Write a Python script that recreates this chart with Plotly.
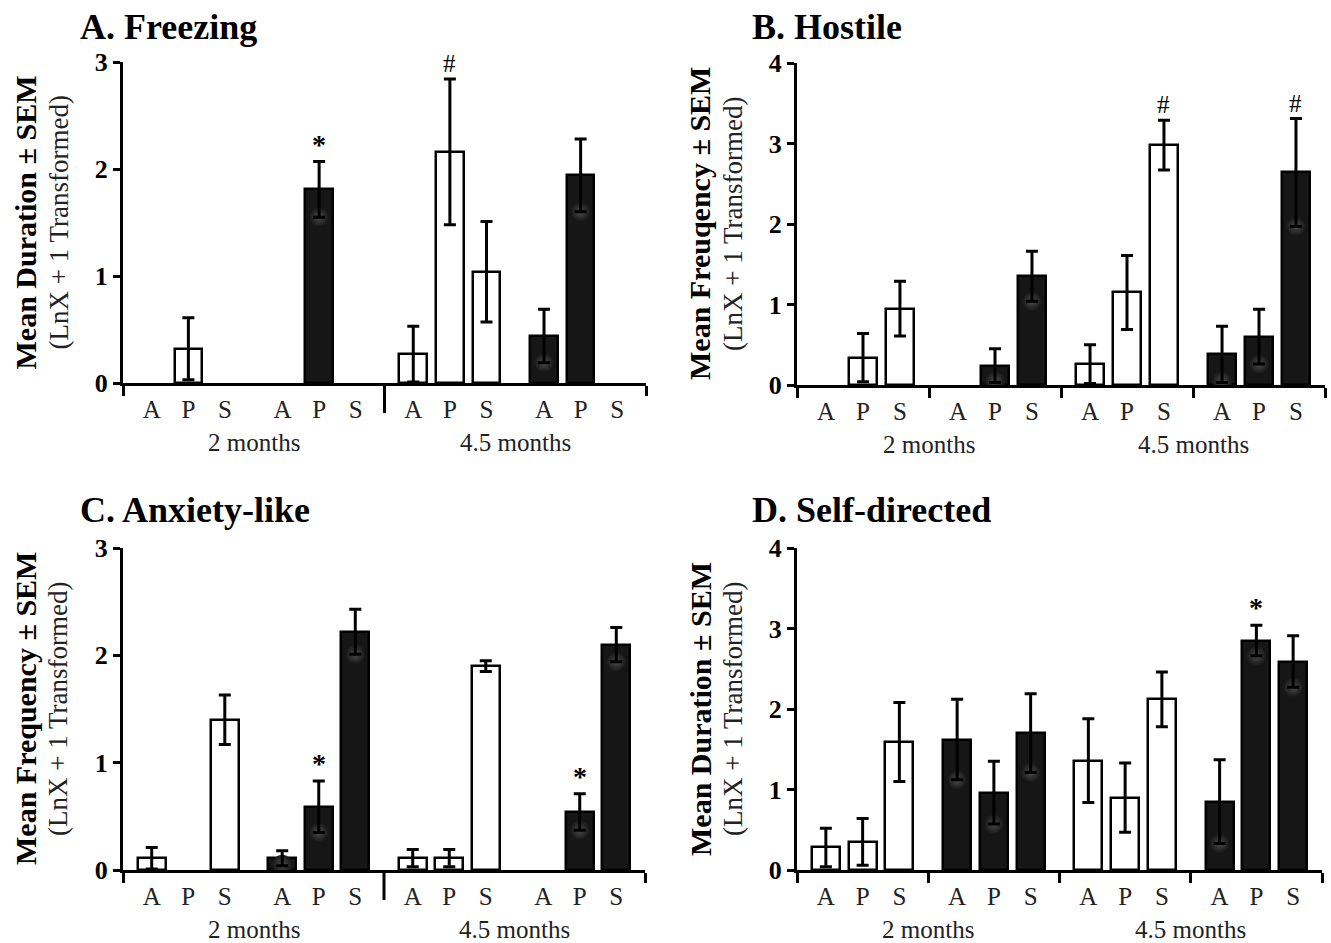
import plotly.graph_objects as go

# ---------------- data ----------------
behaviors = ["A", "P", "S"]
age_labels = ["2 months", "4.5 months"]
# group order: 2 months (white), 2 months (black), 4.5 months (white), 4.5 months (black)
group_is_black = [False, True, False, True]

panel_titles = ["A. Freezing", "B. Hostile", "C. Anxiety-like", "D. Self-directed"]
y_titles = ["Mean Duration ± SEM", "Mean Freuqency ± SEM",
            "Mean Frequency ± SEM", "Mean Duration ± SEM"]
y_subtitle = "(LnX + 1 Transformed)"
y_max = [3, 4, 3, 4]

freezing_mean = [0, 0.32, 0,   0, 1.81, 0,   0.27, 2.16, 1.04,   0.44, 1.94, 0]
freezing_sem = [0, 0.29, 0,   0, 0.26, 0,   0.26, 0.68, 0.47,   0.25, 0.34, 0]
freezing_sig = ["", "", "",   "", "*", "",   "", "#", "",   "", "", ""]

hostile_mean = [0, 0.34, 0.95,   0, 0.24, 1.35,   0.26, 1.15, 2.98,   0.38, 0.60, 2.64]
hostile_sem = [0, 0.30, 0.34,   0, 0.21, 0.31,   0.24, 0.46, 0.31,   0.35, 0.34, 0.67]
hostile_sig = ["", "", "",   "", "", "",   "", "", "#",   "", "", "#"]

anxiety_mean = [0.11, 0, 1.40,   0.11, 0.59, 2.22,   0.11, 0.11, 1.90,   0, 0.54, 2.10]
anxiety_sem = [0.10, 0, 0.23,   0.07, 0.24, 0.21,   0.08, 0.08, 0.05,   0, 0.17, 0.16]
anxiety_sig = ["", "", "",   "", "*", "",   "", "", "",   "", "*", ""]

selfdir_mean = [0.28, 0.35, 1.59,   1.62, 0.96, 1.70,   1.36, 0.90, 2.12,   0.85, 2.85, 2.59]
selfdir_sem = [0.24, 0.29, 0.49,   0.50, 0.39, 0.49,   0.52, 0.43, 0.34,   0.52, 0.19, 0.32]
selfdir_sig = ["", "", "",   "", "", "",   "", "", "",   "", "*", ""]

panel_means = [freezing_mean, hostile_mean, anxiety_mean, selfdir_mean]
panel_sems = [freezing_sem, hostile_sem, anxiety_sem, selfdir_sem]
panel_sigs = [freezing_sig, hostile_sig, anxiety_sig, selfdir_sig]
# A and C: single divider between ages; B and D: tick between every group
split_style = ["age", "group", "age", "group"]

# ---------------- layout geometry ----------------
W, H = 1331, 943
plot_px = [  # (x0, x1, ytop, ybottom) in pixels
    (123, 646, 62, 383),
    (797, 1325, 63, 385),
    (123, 645, 548, 870),
    (797, 1322, 548, 870),
]
title_px = [(78, 27), (750, 27), (78, 510), (750, 510)]
ytitle_bold_x_px = [25, 700, 25, 700]
ytitle_sub_x_px = [58, 733, 58, 733]

FONT = "Liberation Serif"
WHITE_FILL = "white"
BLACK_FILL = "#161616"
GLOW = "#4c4c4c"
offset = 0.28
bar_w = 0.212

fig = go.Figure()
annotations = []
shapes = []

for p in range(4):
    xa = "x" if p == 0 else f"x{p+1}"
    ya = "y" if p == 0 else f"y{p+1}"
    xl = "xaxis" if p == 0 else f"xaxis{p+1}"
    yl = "yaxis" if p == 0 else f"yaxis{p+1}"
    means, sems, sigs = panel_means[p], panel_sems[p], panel_sigs[p]

    xs = []
    for g in range(4):
        for k in range(3):
            xs.append(g + 0.5 + (k - 1) * offset)

    fills = [BLACK_FILL if group_is_black[i // 3] else WHITE_FILL for i in range(12)]
    line_w = [2.5 if m > 0 else 0 for m in means]
    fig.add_trace(go.Bar(
        x=xs, y=means, width=bar_w, xaxis=xa, yaxis=ya,
        marker=dict(color=fills, line=dict(color="black", width=line_w)),
        showlegend=False, hoverinfo="skip"))

    # soft glow on dark bars at the lower end of the error bar
    gx, gy = [], []
    for i in range(12):
        if group_is_black[i // 3] and means[i] > 0:
            gx.append(xs[i])
            gy.append(max(means[i] - sems[i], 0.05))
    if gx:
        fig.add_trace(go.Scatter(
            x=gx, y=gy, mode="markers", xaxis=xa, yaxis=ya,
            marker=dict(size=20, color=BLACK_FILL,
                        gradient=dict(type="radial", color=GLOW),
                        line=dict(width=0)),
            showlegend=False, hoverinfo="skip", cliponaxis=True))

    # error bars
    ex, ey, ee = [], [], []
    for i in range(12):
        if means[i] > 0:
            ex.append(xs[i]); ey.append(means[i]); ee.append(sems[i])
    fig.add_trace(go.Scatter(
        x=ex, y=ey, mode="markers", xaxis=xa, yaxis=ya,
        marker=dict(size=1, color="rgba(0,0,0,0)"),
        error_y=dict(type="data", array=ee, symmetric=True,
                     color="black", thickness=3, width=6),
        showlegend=False, hoverinfo="skip"))

    # significance markers
    for i in range(12):
        if sigs[i]:
            annotations.append(dict(
                x=xs[i], y=means[i] + sems[i], xref=xa, yref=ya,
                text=sigs[i], showarrow=False, yanchor="bottom", yshift=0,
                font=dict(family=FONT, size=28 if sigs[i] == "*" else 25,
                          color="black",
                          weight="bold" if sigs[i] == "*" else "normal")))

    x0, x1, yt, yb = plot_px[p]
    plot_h = yb - yt
    dom_x = [x0 / W, x1 / W]
    dom_y = [1 - yb / H, 1 - yt / H]

    if split_style[p] == "group":
        minor_vals = [0, 1, 2, 3, 4]
    else:
        minor_vals = [0, 4]
        shapes.append(dict(type="line", xref=f"{xa} domain", yref=f"{ya} domain",
                           x0=0.5, x1=0.5, y0=0, y1=-30 / plot_h,
                           line=dict(color="black", width=3)))

    fig.update_layout(**{
        xl: dict(domain=dom_x, anchor=ya, range=[0, 4], showgrid=False,
                 zeroline=False, showline=True, linecolor="black", linewidth=3,
                 tickmode="array", tickvals=xs, ticktext=behaviors * 4,
                 ticks="outside", ticklen=2, tickcolor="rgba(0,0,0,0)",
                 tickfont=dict(family=FONT, size=25, color="#222"),
                 minor=dict(tickmode="array", tickvals=minor_vals, ticks="outside",
                            ticklen=10, tickwidth=3, tickcolor="black"),
                 automargin=False, fixedrange=True),
        yl: dict(domain=dom_y, anchor=xa, range=[0, y_max[p]], showgrid=False,
                 zeroline=False, showline=True, linecolor="black", linewidth=3,
                 tickmode="linear", tick0=0, dtick=1,
                 ticks="outside", ticklen=7, tickwidth=3, tickcolor="black",
                 tickfont=dict(family=FONT, size=26, color="black", weight="bold"),
                 automargin=False, fixedrange=True),
    })

    # age labels
    for a, lab in enumerate(age_labels):
        annotations.append(dict(
            x=1 + 2 * a, y=0, xref=xa, yref=f"{ya} domain", text=lab,
            showarrow=False, yanchor="middle", yshift=-59,
            font=dict(family=FONT, size=25, color="#222")))

    # panel title
    tx, ty = title_px[p]
    annotations.append(dict(
        x=tx / W, y=1 - ty / H, xref="paper", yref="paper", text=panel_titles[p],
        showarrow=False, xanchor="left", yanchor="middle",
        font=dict(family=FONT, size=36, color="black", weight="bold")))

    # y-axis title (two lines)
    yc = 1 - (yt + yb) / 2 / H
    annotations.append(dict(
        x=ytitle_bold_x_px[p] / W, y=yc, xref="paper", yref="paper",
        text=y_titles[p], showarrow=False, textangle=-90,
        xanchor="center", yanchor="middle",
        font=dict(family=FONT, size=30, color="black", weight="bold")))
    annotations.append(dict(
        x=ytitle_sub_x_px[p] / W, y=yc, xref="paper", yref="paper",
        text=y_subtitle, showarrow=False, textangle=-90,
        xanchor="center", yanchor="middle",
        font=dict(family=FONT, size=27, color="#222")))

fig.update_layout(
    template="none",
    width=W, height=H, margin=dict(l=0, r=0, t=0, b=0, autoexpand=False),
    paper_bgcolor="white", plot_bgcolor="white",
    annotations=annotations, shapes=shapes, bargap=0,
)

fig.write_html("out.html", config={"displayModeBar": False},
               post_script="document.body.style.margin='0';")
